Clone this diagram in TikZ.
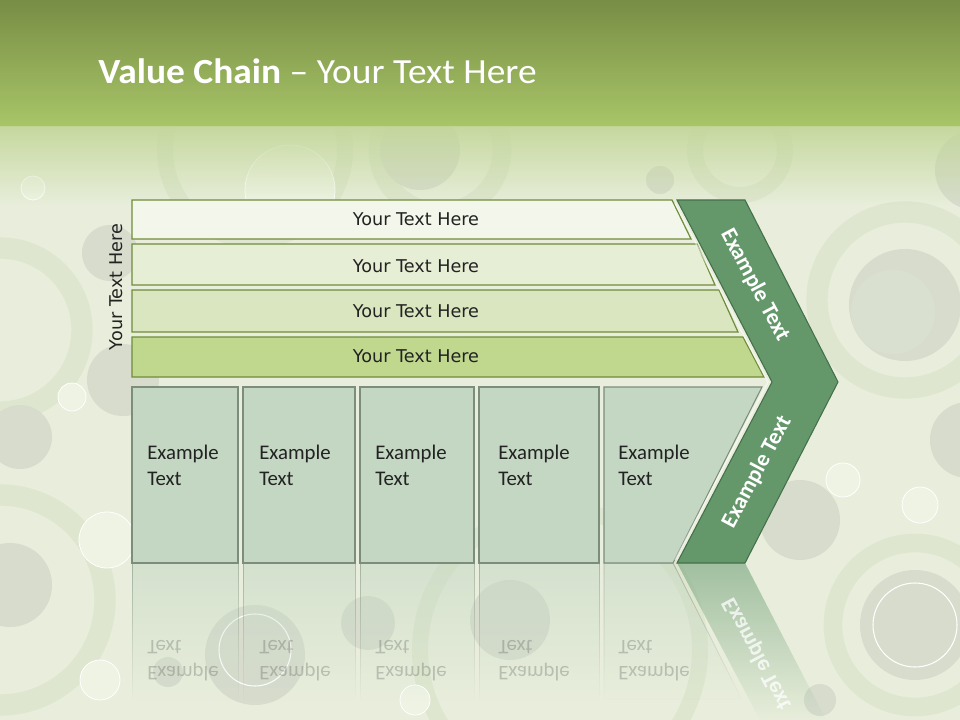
\documentclass[tikz,border=0pt]{standalone}
\usepackage{fontspec}
\setmainfont{Carlito}
\newfontfamily\dejavu{DejaVu Sans}
\usetikzlibrary{fadings}
\definecolor{bgc}{HTML}{E8EEDB}
\definecolor{grayc}{HTML}{D7DCCD}
\definecolor{lightc}{HTML}{EEF3E4}
\definecolor{ringc}{HTML}{DEE6CF}
\definecolor{hdrtop}{HTML}{788D45}
\definecolor{hdrbot}{HTML}{A8C668}
\definecolor{hdrfade}{HTML}{C2D698}
\definecolor{barline}{HTML}{6F8C3A}
\definecolor{barA}{HTML}{F3F7EB}
\definecolor{barB}{HTML}{E6EED5}
\definecolor{barC}{HTML}{D9E6BF}
\definecolor{barD}{HTML}{C0D88E}
\definecolor{boxfill}{HTML}{C4D7C3}
\definecolor{boxline}{HTML}{7D8D7B}
\definecolor{chevfill}{HTML}{64976A}
\definecolor{chevline}{HTML}{44704A}
\definecolor{txtc}{HTML}{222222}
\tikzset{
  gc/.style={fill=grayc},
  lc/.style={fill=lightc, draw=white, line width=0.6pt},
  ringst/.style={draw=ringc, line width=#1},
  barst/.style={draw=barline, line width=0.9pt},
  bartext/.style={font=\dejavu\fontsize{13.2pt}{15pt}\selectfont, text=txtc, inner sep=0pt},
  boxst/.style={fill=boxfill, draw=boxline, line width=0.8pt},
  boxtext/.style={font=\fontsize{15.6pt}{19.5pt}\selectfont, text=txtc, align=left, anchor=west, inner sep=0pt},
  reflst/.style={fill=boxfill, draw=boxline, line width=0.6pt, opacity=0.55, path fading=south},
  refltext/.style={boxtext, opacity=0.22, yscale=-1},
  chevtext/.style={font=\bfseries\fontsize{17pt}{20pt}\selectfont, text=white, inner sep=0pt}
}
\begin{document}
\begin{tikzpicture}[x=0.75pt,y=-0.75pt]
\useasboundingbox (0,0) rectangle (960,720);
\fill[bgc] (0,0) rectangle (960,720);
% background decoration
\draw[ringst=16pt] (0,330) circle (82);
\draw[ringst=16pt] (0,600) circle (105);
\draw[ringst=16pt] (905,300) circle (88);
\draw[ringst=14pt] (915,625) circle (82);
\draw[ringst=14pt] (440,150) circle (62);
\draw[ringst=12pt] (255,150) circle (90);
\draw[ringst=12pt] (560,650) circle (140);
\draw[ringst=12pt] (740,150) circle (45);
\fill[gc] (905,305) circle (56);
\fill[grayc!80!bgc] (893,312) circle (42);
\fill[gc] (915,625) circle (55);
\draw[white, line width=0.8pt] (915,625) circle (42);
\fill[gc] (968,440) circle (38);
\fill[gc] (800,520) circle (40);
\fill[gc] (975,170) circle (40);
\fill[gc] (110,253) circle (28);
\fill[gc] (123,380) circle (36);
\fill[gc] (20,437) circle (32);
\fill[gc] (10,585) circle (42);
\fill[gc] (255,655) circle (50);
\draw[white, line width=0.8pt] (255,650) circle (36);
\fill[gc] (368,623) circle (27);
\fill[gc] (510,620) circle (40);
\fill[gc] (168,672) circle (15);
\fill[gc] (420,150) circle (40);
\fill[gc] (660,180) circle (14);
\fill[gc] (820,700) circle (16);
\draw[lc] (843,480) circle (17);
\draw[lc] (72,397) circle (14);
\draw[lc] (33,188) circle (12);
\draw[lc] (107,540) circle (28);
\draw[lc] (100,680) circle (20);
\draw[lc] (415,700) circle (15);
\draw[lc] (290,190) circle (45);
\draw[lc] (920,505) circle (18);
% header
\shade[top color=hdrtop, bottom color=hdrbot] (0,0) rectangle (960,127);
\fill[hdrfade, opacity=0.9, path fading=south] (0,126) rectangle (960,205);
\node[anchor=base west, text=white, inner sep=0pt, xscale=1.06, font=\fontsize{26.5pt}{30pt}\selectfont] (title) at (98,84) {\textbf{Value Chain} -- Your Text Here};
% left label
\node[bartext, rotate=90] (side) at (116,287) {Your Text Here};
% bars
\path[barst, fill=barA] (132,200) -- (672,200) -- (691,239) -- (132,239) -- cycle;
\path[barst, fill=barB] (132,244) -- (697,244) -- (715,285) -- (132,285) -- cycle;
\path[barst, fill=barC] (132,290) -- (719,290) -- (738,332) -- (132,332) -- cycle;
\path[barst, fill=barD] (132,337) -- (743,337) -- (764,377) -- (132,377) -- cycle;
\node[bartext] (b1) at (416,219) {Your Text Here};
\node[bartext] (b2) at (416,266) {Your Text Here};
\node[bartext] (b3) at (416,311) {Your Text Here};
\node[bartext] (b4) at (416,356) {Your Text Here};
% reflections
\path[reflst] (132,563) rectangle (238,700);
\path[reflst] (243,563) rectangle (355,700);
\path[reflst] (360,563) rectangle (474,700);
\path[reflst] (479,563) rectangle (599,700);
\path[reflst] (604,563) -- (673,563) -- (742,700) -- (604,700) -- cycle;
\path[fill=chevfill!80!white, opacity=0.7, path fading=south] (677,563) -- (745,563) -- (826,720) -- (760,720) -- cycle;
\node[refltext] (r1) at (147,661) {Example\\Text};
\node[refltext] (r2) at (259,661) {Example\\Text};
\node[refltext] (r3) at (375,661) {Example\\Text};
\node[refltext] (r4) at (498,661) {Example\\Text};
\node[refltext] (r5) at (618,661) {Example\\Text};
\node[chevtext, opacity=0.75, yscale=-1, rotate=62] (rc) at (757,654) {Example Text};
% boxes
\path[boxst] (132,387) rectangle (238,563);
\path[boxst] (243,387) rectangle (355,563);
\path[boxst] (360,387) rectangle (474,563);
\path[boxst] (479,387) rectangle (599,563);
\path[boxst] (604,387) -- (762,387) -- (673,563) -- (604,563) -- cycle;
\node[boxtext] (t1) at (147,465) {Example\\Text};
\node[boxtext] (t2) at (259,465) {Example\\Text};
\node[boxtext] (t3) at (375,465) {Example\\Text};
\node[boxtext] (t4) at (498,465) {Example\\Text};
\node[boxtext] (t5) at (618,465) {Example\\Text};
% chevron
\path[fill=chevfill, draw=chevline, line width=0.8pt] (677,200) -- (745,200) -- (838,382) -- (745,563) -- (677,563) -- (772,382) -- cycle;
\draw[white, opacity=0.5, line width=1.2pt] (675,203) -- (768,382) -- (675,560);
\node[chevtext, rotate=-62] (c1) at (755,285) {Example Text};
\node[chevtext, rotate=62] (c2) at (757,472) {Example Text};
\end{tikzpicture}
\end{document}
